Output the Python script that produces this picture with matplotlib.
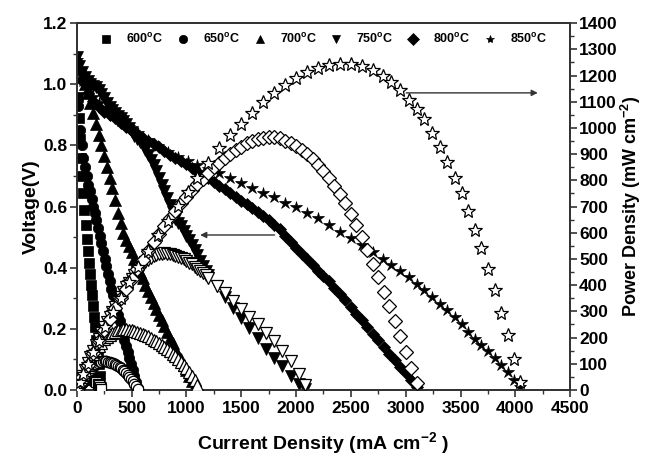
import matplotlib
matplotlib.use("Agg")
import matplotlib.pyplot as plt
from matplotlib.ticker import MultipleLocator

plt.rcParams['font.family'] = ['Liberation Sans', 'DejaVu Sans']
plt.rcParams['font.weight'] = 'bold'
plt.rcParams['mathtext.fontset'] = 'custom'
plt.rcParams['mathtext.rm'] = 'Liberation Sans:bold'
plt.rcParams['mathtext.bf'] = 'Liberation Sans:bold'
plt.rcParams['mathtext.it'] = 'Liberation Sans:bold'

temps = ["600", "650", "700", "750", "800", "850"]

I600 = [0, 10, 20, 30, 40, 50, 60, 70, 80, 90, 100, 110, 120, 130, 140, 150, 160, 170, 180, 190, 200, 210, 220]
V600 = [1.05, 0.96, 0.89, 0.82, 0.76, 0.70, 0.645, 0.59, 0.54, 0.495, 0.455, 0.415, 0.38, 0.345, 0.31, 0.275, 0.24, 0.205, 0.165, 0.125, 0.085, 0.045, 0.01]
P600 = [0, 9.6, 17.8, 24.6, 30.4, 35, 38.7, 41.3, 43.2, 44.6, 45.5, 45.7, 45.6, 44.9, 43.4, 41.3, 38.4, 34.9, 29.7, 23.8, 17, 9.5, 2.2]

I650 = [0, 15, 30, 45, 60, 75, 90, 105, 120, 135, 150, 165, 180, 195, 210, 225, 240, 255, 270, 285, 300, 315, 330, 345, 360, 375, 390, 405, 420, 435, 450, 465, 480, 495, 510, 525, 540, 555]
V650 = [1.07, 0.93, 0.85, 0.80, 0.76, 0.73, 0.70, 0.67, 0.65, 0.625, 0.60, 0.58, 0.555, 0.53, 0.505, 0.48, 0.455, 0.43, 0.405, 0.38, 0.355, 0.33, 0.31, 0.285, 0.265, 0.245, 0.225, 0.205, 0.185, 0.165, 0.145, 0.125, 0.105, 0.085, 0.065, 0.045, 0.025, 0.005]
P650 = [0, 14, 26, 36, 46, 55, 63, 70, 78, 84, 90, 96, 100, 103, 106, 108, 109, 110, 110, 108, 107, 104, 102, 98, 95, 92, 88, 83, 78, 72, 65, 58, 50, 42, 33, 24, 14, 3]

I700 = [0, 25, 50, 75, 100, 125, 150, 175, 200, 225, 250, 275, 300, 325, 350, 375, 400, 425, 450, 475, 500, 525, 550, 575, 600, 625, 650, 675, 700, 725, 750, 775, 800, 825, 850, 875, 900, 925, 950, 975, 1000, 1025, 1050, 1075, 1100]
V700 = [1.09, 1.06, 1.03, 1.0, 0.97, 0.94, 0.905, 0.87, 0.835, 0.80, 0.765, 0.73, 0.695, 0.66, 0.62, 0.58, 0.545, 0.515, 0.49, 0.47, 0.45, 0.43, 0.405, 0.385, 0.365, 0.345, 0.325, 0.305, 0.285, 0.265, 0.245, 0.23, 0.21, 0.19, 0.17, 0.155, 0.135, 0.115, 0.1, 0.08, 0.065, 0.045, 0.03, 0.015, 0.003]
P700 = [0, 26, 51, 75, 97, 117, 136, 153, 168, 181, 193, 203, 211, 218, 223, 227, 230, 231, 231, 230, 228, 225, 222, 218, 214, 209, 204, 198, 192, 186, 179, 172, 164, 156, 147, 138, 128, 118, 107, 95, 82, 69, 54, 38, 20]

I750 = [0, 25, 50, 75, 100, 125, 150, 175, 200, 225, 250, 275, 300, 325, 350, 375, 400, 425, 450, 475, 500, 525, 550, 575, 600, 625, 650, 675, 700, 725, 750, 775, 800, 825, 850, 875, 900, 925, 950, 975, 1000, 1025, 1050, 1075, 1100, 1125, 1150, 1175, 1200,
        1275, 1350, 1425, 1500, 1575, 1650, 1725, 1800, 1875, 1950, 2025, 2080]
V750 = [1.09, 1.06, 1.04, 1.025, 1.01, 1.0, 0.995, 0.99, 0.98, 0.968, 0.955, 0.94, 0.925, 0.915, 0.905, 0.897, 0.89, 0.88, 0.87, 0.857, 0.845, 0.832, 0.82, 0.81, 0.80, 0.785, 0.77, 0.752, 0.735, 0.715, 0.695, 0.672, 0.65, 0.627, 0.605, 0.582, 0.56, 0.547, 0.535, 0.52, 0.505, 0.49, 0.475, 0.457, 0.44, 0.422, 0.405, 0.39, 0.375,
        0.34, 0.305, 0.268, 0.235, 0.203, 0.17, 0.135, 0.105, 0.078, 0.045, 0.018, 0.002]
P750 = [0, 27, 52, 77, 101, 125, 149, 173, 196, 218, 239, 259, 278, 297, 317, 336, 356, 374, 392, 407, 423, 437, 451, 465, 477, 488, 497, 504, 510, 514, 518, 520, 521, 520, 519, 516, 513, 508, 503, 498, 492, 486, 479, 471, 463, 455, 446, 437, 428,
        398, 369, 339, 309, 280, 250, 218, 188, 150, 110, 60, 20]

I800 = [0, 50, 100, 150, 200, 250, 300, 350, 400, 450, 500, 550, 600, 650, 700, 750, 800, 850, 900, 950, 1000, 1050, 1100, 1150, 1200, 1250, 1300, 1350, 1400, 1450, 1500, 1550, 1600, 1650, 1700, 1750, 1800, 1850, 1900, 1950, 2000, 2050, 2100, 2150, 2200, 2250, 2300, 2350, 2400, 2450, 2500, 2550, 2600, 2650, 2700, 2750, 2800, 2850, 2900, 2950, 3000, 3050, 3100]
V800 = [1.07, 1.01, 0.97, 0.945, 0.925, 0.91, 0.9, 0.89, 0.875, 0.86, 0.847, 0.835, 0.825, 0.815, 0.805, 0.795, 0.783, 0.77, 0.76, 0.75, 0.738, 0.726, 0.714, 0.703, 0.692, 0.68, 0.668, 0.656, 0.644, 0.632, 0.619, 0.607, 0.595, 0.583, 0.57, 0.556, 0.54, 0.525, 0.505, 0.485, 0.465, 0.445, 0.428, 0.41, 0.39, 0.372, 0.355, 0.333, 0.315, 0.294, 0.27, 0.25, 0.228, 0.206, 0.183, 0.163, 0.14, 0.117, 0.098, 0.076, 0.055, 0.032, 0.01]
P800 = [0, 50, 97, 142, 185, 228, 270, 311, 350, 387, 424, 460, 495, 530, 564, 596, 626, 655, 684, 712, 738, 762, 785, 807, 830, 850, 868, 886, 902, 916, 929, 941, 951, 957, 962, 964, 964, 960, 952, 943, 931, 916, 900, 882, 860, 836, 810, 780, 747, 712, 673, 630, 585, 535, 482, 430, 375, 320, 263, 205, 145, 85, 25]

I850 = [0, 30, 60, 100, 150, 200, 260, 330, 400, 480, 560, 650, 740, 830, 920, 1010, 1100, 1200, 1300, 1400, 1500, 1600, 1700, 1800, 1900, 2000, 2100, 2200, 2300, 2400, 2500, 2600, 2700, 2790, 2870, 2950, 3030, 3100, 3170, 3240, 3310, 3380, 3450, 3510, 3570, 3630, 3690, 3750, 3810, 3870, 3930, 3990, 4040]
V850 = [1.08, 1.04, 1.01, 0.985, 0.96, 0.94, 0.92, 0.9, 0.88, 0.86, 0.84, 0.818, 0.798, 0.778, 0.762, 0.75, 0.737, 0.722, 0.71, 0.695, 0.678, 0.66, 0.645, 0.63, 0.612, 0.597, 0.58, 0.562, 0.54, 0.518, 0.497, 0.475, 0.452, 0.428, 0.408, 0.39, 0.368, 0.348, 0.327, 0.305, 0.282, 0.26, 0.238, 0.215, 0.19, 0.168, 0.146, 0.126, 0.105, 0.082, 0.058, 0.032, 0.008]
P850 = [0, 31, 61, 98, 144, 188, 239, 297, 352, 413, 470, 532, 590, 645, 701, 757, 810, 866, 923, 972, 1017, 1058, 1098, 1135, 1165, 1192, 1212, 1230, 1240, 1246, 1244, 1236, 1222, 1200, 1175, 1145, 1108, 1072, 1035, 980, 928, 870, 808, 750, 682, 610, 540, 462, 380, 295, 208, 120, 30]

series = [
    (I600, V600, P600, 's', 7, 7.5),
    (I650, V650, P650, 'o', 7.5, 7.5),
    (I700, V700, P700, '^', 8.5, 9),
    (I750, V750, P750, 'v', 8, 9),
    (I800, V800, P800, 'D', 6.5, 7.5),
    (I850, V850, P850, '*', 9, 10),
]

fig = plt.figure(figsize=(6.45, 4.55), dpi=100)
ax = fig.add_axes([0.119, 0.143, 0.765, 0.806])
ax2 = ax.twinx()

handles = []
for (I, V, P, m, ms, msp), t in zip(series, temps):
    h, = ax.plot(I, V, linestyle='none', marker=m, ms=ms, color='black',
                 mec='black', mfc='black', mew=0.5, zorder=3)
    handles.append(h)
    ax2.plot(I, P, linestyle='none', marker=m, ms=msp, mfc='white',
             mec='black', mew=0.9, zorder=3)

ax.set_xlim(0, 4500)
ax.set_ylim(0, 1.2)
ax2.set_ylim(0, 1400)
ax.xaxis.set_major_locator(MultipleLocator(500))
ax.xaxis.set_minor_locator(MultipleLocator(250))
ax.yaxis.set_major_locator(MultipleLocator(0.2))
ax.yaxis.set_minor_locator(MultipleLocator(0.1))
ax2.yaxis.set_major_locator(MultipleLocator(100))
ax2.yaxis.set_minor_locator(MultipleLocator(50))
ax.yaxis.set_major_formatter(matplotlib.ticker.FormatStrFormatter('%.1f'))

for a in (ax, ax2):
    for s in a.spines.values():
        s.set_linewidth(1.3)
        s.set_color('#333333')
ax.tick_params(axis='both', which='major', direction='out', length=5, width=1.2,
               labelsize=12.5, colors='#333333', labelcolor='black', top=False)
ax.tick_params(axis='both', which='minor', direction='out', length=3, width=1.0,
               colors='#333333', top=False)
ax2.tick_params(axis='y', which='major', direction='out', length=5, width=1.2,
                labelsize=12.5, colors='#333333', labelcolor='black')
ax2.tick_params(axis='y', which='minor', direction='out', length=3, width=1.0, colors='#333333')
ax.tick_params(axis='x', pad=3)
ax.tick_params(axis='y', pad=2)
ax2.tick_params(axis='y', pad=1.5)

ax.set_xlabel(r"Current Density (mA cm$^{-2}$ )", fontsize=14, fontweight='bold', labelpad=10)
ax.set_ylabel("Voltage(V)", fontsize=14, fontweight='bold', labelpad=2)
ax2.set_ylabel(r"Power Density (mW cm$^{-2}$)", fontsize=13, fontweight='bold', labelpad=1)

labels = [t + r"$^{\mathbf{o}}$C" for t in temps]
leg = ax.legend(handles, labels, ncol=6, loc='upper center', bbox_to_anchor=(0.5, 1.0),
                frameon=False, fontsize=9, handlelength=1.0, handletextpad=1.1,
                columnspacing=1.05, markerscale=1.0, borderaxespad=0.3)
for h in leg.legend_handles:
    h.set_markersize(6)

ax.annotate('', xy=(1100, 0.507), xytext=(1830, 0.507),
            arrowprops=dict(arrowstyle='-|>', color='#333333', lw=1.0, mutation_scale=9))
ax2.annotate('', xy=(4230, 1134), xytext=(2980, 1134),
             arrowprops=dict(arrowstyle='-|>', color='#333333', lw=1.0, mutation_scale=9))

fig.savefig("out.png", dpi=100)
